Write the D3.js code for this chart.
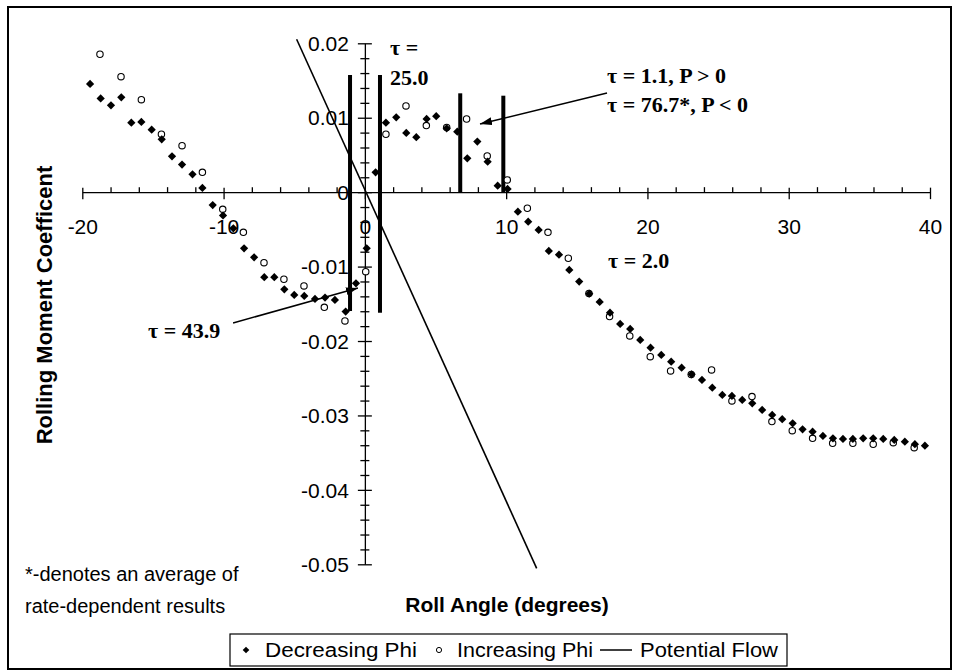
<!DOCTYPE html>
<html>
<head>
<meta charset="utf-8">
<script src="https://cdn.jsdelivr.net/npm/d3@7"></script>
<style>
  html, body { margin: 0; padding: 0; background: #fff; }
  svg { display: block; }
  .sans { font-family: "Liberation Sans", Arial, Helvetica, sans-serif; fill: #000; }
  .serif { font-family: "Liberation Serif", "Times New Roman", serif; font-weight: bold; fill: #000; }
</style>
</head>
<body>
<svg id="chart" width="959" height="672"></svg>
<script>
// Axis ticks and labels
const xTicks = [-20, -10, 0, 10, 20, 30, 40];
const xTickLabels = ["-20", "-10", "0", "10", "20", "30", "40"];
const yTicks = [0.02, 0.01, 0, -0.01, -0.02, -0.03, -0.04, -0.05];
const yTickLabels = ["0.02", "0.01", "0", "-0.01", "-0.02", "-0.03", "-0.04", "-0.05"];

// Rolling moment coefficient vs roll angle, roll angle decreasing [deg, Cl]
const decreasingPhi = [
  [-19.45, 0.01454], [-18.70, 0.01260], [-17.97, 0.01167], [-17.24, 0.01275],
  [-16.53, 0.00934], [-15.82, 0.00943], [-15.09, 0.00840], [-14.38, 0.00710],
  [-13.65, 0.00482], [-12.94, 0.00370], [-12.20, 0.00240], [-11.50, 0.00056],
  [-10.77, -0.00174], [-10.04, -0.00313], [-9.31, -0.00485], [-8.55, -0.00754],
  [-7.84, -0.00875], [-7.12, -0.01143], [-6.41, -0.01143], [-5.70, -0.01305],
  [-5.00, -0.01381], [-4.29, -0.01395], [-3.53, -0.01435], [-2.82, -0.01417],
  [-2.12, -0.01448], [-1.36, -0.01605], [-0.63, -0.01224], [0.13, -0.00754],
  [0.76, 0.00267], [1.49, 0.00934], [2.22, 0.01006], [2.93, 0.00795],
  [3.64, 0.00738], [4.37, 0.00983], [5.05, 0.01020], [5.79, 0.00858],
  [6.54, 0.00813], [7.25, 0.00455], [7.96, 0.00679], [8.69, 0.00410],
  [9.40, 0.00087], [10.10, 0.00043], [10.83, -0.00262], [11.56, -0.00396],
  [12.30, -0.00508], [13.02, -0.00790], [13.74, -0.00840], [14.47, -0.01045],
  [15.17, -0.01202], [15.88, -0.01364], [16.62, -0.01475], [17.35, -0.01619],
  [18.07, -0.01771], [18.78, -0.01838], [19.49, -0.01986], [20.22, -0.02089],
  [20.98, -0.02187], [21.68, -0.02277], [22.42, -0.02358], [23.13, -0.02447],
  [23.86, -0.02523], [24.59, -0.02627], [25.30, -0.02725], [25.98, -0.02738],
  [26.71, -0.02792], [27.42, -0.02837], [28.12, -0.02926], [28.83, -0.02993],
  [29.54, -0.03051], [30.28, -0.03105], [30.98, -0.03186], [31.69, -0.03218],
  [32.42, -0.03276], [33.13, -0.03307], [33.84, -0.03316], [34.54, -0.03316],
  [35.27, -0.03307], [35.98, -0.03307], [36.69, -0.03316], [37.47, -0.03329],
  [38.22, -0.03352], [38.93, -0.03387], [39.64, -0.03406]
];

// Roll angle increasing [deg, Cl]
const increasingPhi = [
  [-18.75, 0.01853], [-17.26, 0.01552], [-15.82, 0.01243], [-14.40, 0.00778],
  [-12.94, 0.00625], [-11.50, 0.00267], [-10.06, -0.00230], [-8.60, -0.00540],
  [-7.14, -0.00947], [-5.73, -0.01170], [-4.31, -0.01260], [-2.87, -0.01547],
  [-1.41, -0.01730], [0.06, -0.01068], [1.49, 0.00778], [2.91, 0.01158],
  [4.35, 0.00894], [5.79, 0.00870], [7.20, 0.00983], [8.66, 0.00486],
  [10.08, 0.00164], [11.50, -0.00216], [12.96, -0.00540], [14.40, -0.00888],
  [15.86, -0.01360], [17.32, -0.01672], [18.75, -0.01932], [20.20, -0.02210],
  [21.64, -0.02402], [23.10, -0.02450], [24.54, -0.02389], [25.98, -0.02805],
  [27.40, -0.02747], [28.81, -0.03083], [30.25, -0.03204], [31.69, -0.03307],
  [33.11, -0.03374], [34.54, -0.03374], [35.98, -0.03387], [37.40, -0.03366],
  [38.88, -0.03433]
];

// Potential flow prediction (straight line)
const potentialFlow = [[-4.83, 0.02054], [12.16, -0.05054]];

// Heavy vertical markers delimiting the hysteresis regions [deg, top, bottom]
const regionBars = [
  [-1.05, 0.01574, -0.01597],
  [1.07, 0.01574, -0.01620],
  [6.75, 0.01328, 0.0],
  [9.80, 0.01296, 0.0]
];

// Time-constant annotations: text lines anchored at [deg, Cl]
const tauLabels = [
  { text: "\u03c4 =", at: [1.78, 0.01843] },
  { text: "25.0", at: [1.78, 0.01440] },
  { text: "\u03c4 = 1.1, P > 0", at: [17.14, 0.01467] },
  { text: "\u03c4 = 76.7*, P < 0", at: [17.14, 0.01077] },
  { text: "\u03c4 = 43.9", at: [-15.35, -0.01960] },
  { text: "\u03c4 = 2.0", at: [17.21, -0.01019] }
];

// Leader arrows [from, to] in [deg, Cl]
const leaders = [
  [[17.14, 0.01332], [8.15, 0.00916]],
  [[-9.33, -0.01758], [-0.49, -0.01288]]
];

const footnote = ["*-denotes an average of", "rate-dependent results"];
const legendItems = ["Decreasing Phi", "Increasing Phi", "Potential Flow"];

const svg = d3.select("#chart");

const x = d3.scaleLinear().domain([-20, 40]).range([82.3, 930]);
const y = d3.scaleLinear().domain([-0.05, 0.02]).range([564.3, 43.3]);

// Outer frame
svg.append("rect")
  .attr("x", 8).attr("y", 7).attr("width", 943).attr("height", 662)
  .attr("fill", "none").attr("stroke", "#000").attr("stroke-width", 2);

// Arrowhead
svg.append("defs").append("marker")
  .attr("id", "arrow")
  .attr("markerUnits", "userSpaceOnUse")
  .attr("markerWidth", 14).attr("markerHeight", 10)
  .attr("refX", 12).attr("refY", 4)
  .attr("orient", "auto")
  .append("path").attr("d", "M0,0 L12,4 L0,8 Z").attr("fill", "#000");

// X axis, drawn through Cl = 0
const xMinor = d3.range(-20, 40.001, 2).filter(v => !xTicks.includes(v));
const gx = svg.append("g").attr("transform", `translate(0,${y(0)})`);
gx.call(d3.axisBottom(x).tickValues(xTicks).tickSizeOuter(0)
  .tickFormat((d, i) => xTickLabels[i]));
gx.selectAll(".tick line").attr("y1", -4.5).attr("y2", 7);
gx.selectAll(".tick text").attr("y", 42).attr("dy", null)
  .attr("class", "sans").style("font-size", "21px");
const gxm = svg.append("g").attr("transform", `translate(0,${y(0)})`);
gxm.call(d3.axisBottom(x).tickValues(xMinor).tickSizeInner(-5).tickSizeOuter(0).tickFormat(""));
gxm.select(".domain").remove();

// Y axis, drawn through roll angle = 0
const yMinor = d3.range(-0.05, 0.02001, 0.002).filter(v => !yTicks.some(t => Math.abs(t - v) < 1e-6));
const gy = svg.append("g").attr("transform", `translate(${x(0)},0)`);
gy.call(d3.axisLeft(y).tickValues(yTicks).tickSizeOuter(0)
  .tickFormat((d, i) => yTickLabels[i]));
gy.selectAll(".tick line").attr("x1", -7).attr("x2", 7);
gy.selectAll(".tick text").attr("x", -16).attr("dy", "0.34em")
  .attr("class", "sans").style("font-size", "21px");
const gym = svg.append("g").attr("transform", `translate(${x(0)},0)`);
gym.call(d3.axisLeft(y).tickValues(yMinor).tickSizeOuter(0).tickFormat(""));
gym.selectAll(".tick line").attr("x1", -4.5).attr("x2", 4.5);
gym.select(".domain").remove();

svg.selectAll(".domain, .tick line").attr("stroke", "#000").attr("stroke-width", 1.3);
svg.selectAll(".tick text").attr("fill", "#000").attr("font-family", null);

// Potential flow line
svg.append("path")
  .datum(potentialFlow)
  .attr("d", d3.line().x(d => x(d[0])).y(d => y(d[1])))
  .attr("fill", "none").attr("stroke", "#000").attr("stroke-width", 1.6);

// Region markers
svg.append("g").selectAll("rect").data(regionBars).join("rect")
  .attr("x", d => x(d[0]) - 2)
  .attr("y", d => y(d[1]))
  .attr("width", 4)
  .attr("height", d => y(d[2]) - y(d[1]))
  .attr("fill", "#000");

// Increasing-phi points (open circles)
svg.append("g").selectAll("circle").data(increasingPhi).join("circle")
  .attr("cx", d => x(d[0])).attr("cy", d => y(d[1])).attr("r", 3.2)
  .attr("fill", "#fff").attr("stroke", "#000").attr("stroke-width", 1.1);

// Decreasing-phi points (filled diamonds)
const diamond = d3.symbol(d3.symbolSquare, 34)();
svg.append("g").selectAll("path").data(decreasingPhi).join("path")
  .attr("d", diamond)
  .attr("transform", d => `translate(${x(d[0])},${y(d[1])}) rotate(45)`)
  .attr("fill", "#000");

// Leader arrows
svg.append("g").selectAll("line").data(leaders).join("line")
  .attr("x1", d => x(d[0][0])).attr("y1", d => y(d[0][1]))
  .attr("x2", d => x(d[1][0])).attr("y2", d => y(d[1][1]))
  .attr("stroke", "#000").attr("stroke-width", 1.5)
  .attr("marker-end", "url(#arrow)");

// Time-constant labels
svg.append("g").selectAll("text").data(tauLabels).join("text")
  .attr("class", "serif")
  .attr("x", d => x(d.at[0])).attr("y", d => y(d.at[1]))
  .style("font-size", "22px")
  .text(d => d.text);

// Axis titles
svg.append("text").attr("class", "sans")
  .attr("transform", "translate(52,305) rotate(-90)")
  .attr("text-anchor", "middle")
  .style("font-size", "22px").style("font-weight", "bold")
  .text("Rolling Moment Coefficent");

svg.append("text").attr("class", "sans")
  .attr("x", 507).attr("y", 612)
  .attr("text-anchor", "middle")
  .style("font-size", "21px").style("font-weight", "bold")
  .text("Roll Angle (degrees)");

// Footnote
svg.append("g").selectAll("text").data(footnote).join("text")
  .attr("class", "sans")
  .attr("x", 25).attr("y", (d, i) => 581 + i * 32)
  .style("font-size", "20px")
  .text(d => d);

// Legend
const lg = svg.append("g");
lg.append("rect").attr("x", 230).attr("y", 634).attr("width", 557).attr("height", 32)
  .attr("fill", "#fff").attr("stroke", "#000").attr("stroke-width", 1.2);
lg.append("path").attr("d", d3.symbol(d3.symbolSquare, 22)())
  .attr("transform", "translate(246,650) rotate(45)").attr("fill", "#000");
lg.append("circle").attr("cx", 439).attr("cy", 650).attr("r", 2.6)
  .attr("fill", "#fff").attr("stroke", "#000").attr("stroke-width", 1);
lg.append("line").attr("x1", 600).attr("x2", 632).attr("y1", 650).attr("y2", 650)
  .attr("stroke", "#000").attr("stroke-width", 1.5);
const legendX = [265, 457, 640];
const legendW = [152, 136, 138];
lg.selectAll("text.item").data(legendItems).join("text")
  .attr("class", "sans item")
  .attr("x", (d, i) => legendX[i]).attr("y", 657)
  .attr("textLength", (d, i) => legendW[i])
  .attr("lengthAdjust", "spacingAndGlyphs")
  .style("font-size", "20px")
  .text(d => d);
</script>
</body>
</html>
